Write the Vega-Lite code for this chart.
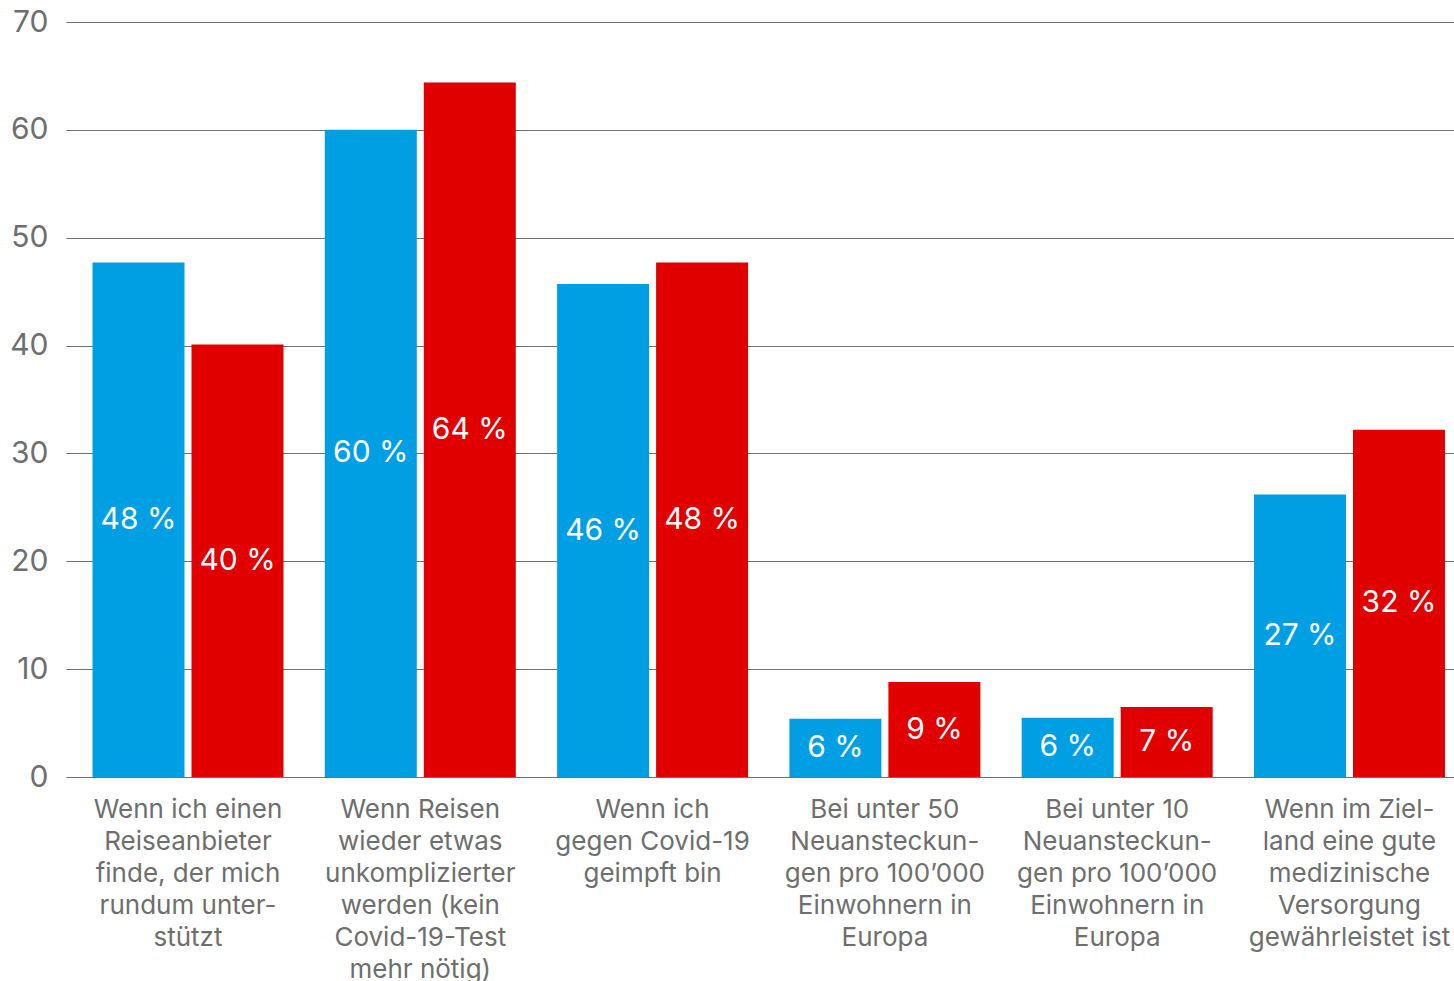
{
  "$schema": "https://vega.github.io/schema/vega-lite/v6.json",
  "autosize": {"type": "none"},
  "padding": {"left": 66, "top": 22, "right": 0, "bottom": 204},
  "width": 1400,
  "height": 755,
  "background": "white",
  "config": {"view": {"stroke": null}, "font": "Inter"},
  "data": {"values": [
    {"cat": "Wenn ich einen|Reiseanbieter|finde, der mich|rundum unter-|stützt", "series": "Serie 1", "value": 47.7, "label": "48 %"},
    {"cat": "Wenn ich einen|Reiseanbieter|finde, der mich|rundum unter-|stützt", "series": "Serie 2", "value": 40.1, "label": "40 %"},
    {"cat": "Wenn Reisen|wieder etwas|unkomplizierter|werden (kein|Covid-19-Test|mehr nötig)", "series": "Serie 1", "value": 60.0, "label": "60 %"},
    {"cat": "Wenn Reisen|wieder etwas|unkomplizierter|werden (kein|Covid-19-Test|mehr nötig)", "series": "Serie 2", "value": 64.4, "label": "64 %"},
    {"cat": "Wenn ich|gegen Covid-19|geimpft bin", "series": "Serie 1", "value": 45.7, "label": "46 %"},
    {"cat": "Wenn ich|gegen Covid-19|geimpft bin", "series": "Serie 2", "value": 47.7, "label": "48 %"},
    {"cat": "Bei unter 50|Neuansteckun-|gen pro 100’000|Einwohnern in|Europa", "series": "Serie 1", "value": 5.4, "label": "6 %"},
    {"cat": "Bei unter 50|Neuansteckun-|gen pro 100’000|Einwohnern in|Europa", "series": "Serie 2", "value": 8.8, "label": "9 %"},
    {"cat": "Bei unter 10|Neuansteckun-|gen pro 100’000|Einwohnern in|Europa", "series": "Serie 1", "value": 5.5, "label": "6 %"},
    {"cat": "Bei unter 10|Neuansteckun-|gen pro 100’000|Einwohnern in|Europa", "series": "Serie 2", "value": 6.5, "label": "7 %"},
    {"cat": "Wenn im Ziel-|land eine gute|medizinische|Versorgung|gewährleistet ist", "series": "Serie 1", "value": 26.2, "label": "27 %"},
    {"cat": "Wenn im Ziel-|land eine gute|medizinische|Versorgung|gewährleistet ist", "series": "Serie 2", "value": 32.2, "label": "32 %"}
  ]},
  "encoding": {
    "x": {"field": "cat", "type": "nominal", "sort": null, "title": null,
      "scale": {"paddingInner": 0, "paddingOuter": 0.0134, "align": 0.94},
      "axis": {"labelExpr": "split(datum.label, '|')", "labelAngle": 0, "labelFontSize": 26, "labelLineHeight": 32, "labelColor": "#6e6e6e", "labelPadding": 19, "labelLimit": 0, "domain": false, "ticks": false, "grid": false, "labelFont": "Inter"}},
    "xOffset": {"field": "series", "type": "nominal", "scale": {"paddingInner": 0.0707, "paddingOuter": 0.2086}},
    "color": {"field": "series", "type": "nominal", "legend": null, "scale": {"domain": ["Serie 1", "Serie 2"], "range": ["#009fe3", "#e00000"]}}
  },
  "layer": [
    {"mark": {"type": "bar", "cornerRadius": 0},
     "encoding": {
       "y": {"field": "value", "type": "quantitative", "title": null,
         "scale": {"domain": [0, 70], "nice": false},
         "axis": {"values": [0, 10, 20, 30, 40, 50, 60, 70], "domain": false, "ticks": false, "grid": true, "gridColor": "#707070", "gridWidth": 1, "gridOpacity": 1, "labelFontSize": 30, "labelColor": "#6e6e6e", "labelPadding": 18, "labelFont": "Inter"}}
     }},
    {"mark": {"type": "text", "color": "white", "fontSize": 30, "baseline": "middle", "align": "center", "y": {"expr": "scale('y', datum.value / 2)"}},
     "encoding": {
       "text": {"field": "label"},
       "color": {"value": "white"}
     }}
  ]
}
